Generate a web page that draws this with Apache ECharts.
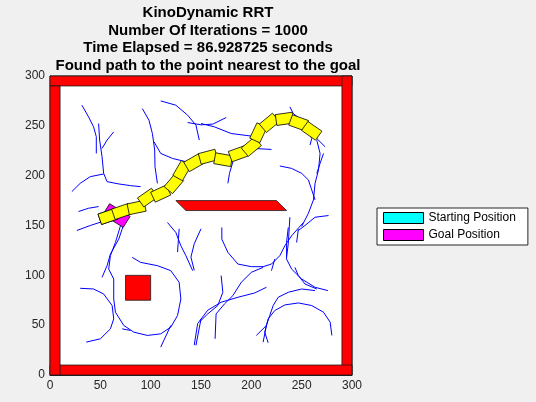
<!DOCTYPE html>
<html><head><meta charset="utf-8">
<script src="https://cdn.jsdelivr.net/npm/echarts@6/dist/echarts.min.js"></script>
<style>html,body{margin:0;padding:0;background:#f0f0f0}#c{width:536px;height:402px}</style>
</head><body><div id="c"></div>
<script>
// ---------- DATA ----------
const titleLines = ['KinoDynamic RRT', 'Number Of Iterations = 1000', 'Time Elapsed = 86.928725 seconds', 'Found path to the point nearest to the goal'];
const axisTicks = [0, 50, 100, 150, 200, 250, 300];
const legendNames = ['Starting Position', 'Goal Position'];
// walls [x0,y0,x1,y1]
const walls = [[0,290,300,300],[290,0,300,300],[0,0,300,10],[0,0,10,290]];
const squareObstacle = [[75,75,100,100]];
const slantObstacle = [[125,175],[225,175],[235,165],[135,165]];
// car poses [cx, cy, heading deg]
const startPose = [[57.5,159,19]];
const goalPose = [[66,160,-32]];
const pathPoses = [
  [57.5,159,19],[71,164,19],[86,168,12],[97,178,35],[110,182,25],[123,192,50],
  [131,205,60],[143,213,30],[157,219,15],[172,216,-10],[187,222,20],[200,229,40],
  [207,243,65],[218,253,40],[233,257,8],[247,253,-20],[260,245,-35]
];
// RRT tree branches (polylines)
const treeBranches = [
  [[31.7,270.7],[38.3,259],[43.3,249],[46,239],[46,222.3]],
  [[48.3,252.3],[49.3,235.7],[51.7,219],[53.3,202.3],[56.7,194],[68.3,191.7],[80,190],[90,189]],
  [[63.3,244],[56.7,235.7],[51.7,227.3]],
  [[21.7,184],[30,192.3],[40,199],[53.3,201.7]],
  [[91.7,267.3],[98.3,255.7],[101.7,242.3],[104,225.7],[104.3,209],[106.7,192.3]],
  [[110,275],[125,270.7],[136.7,260.7],[145,250.7],[148.3,235.7]],
  [[103.3,234],[110,222.3],[121.7,217.3],[135,214]],
  [[28.3,164],[38.3,167.3],[48.3,169]],
  [[26.7,145],[40,150],[50,153.3],[60,156]],
  [[136.7,253.3],[150,251],[161.7,251.7],[175,258.3]],
  [[150,252.3],[163.3,249],[180,242.3],[200,239.7]],
  [[238.3,269],[241.7,262.3],[250,255.7],[256.7,245.7],[260,237.3],[258.3,230.7]],
  [[256.7,245.7],[265,237.3],[273.3,229]],
  [[265,235.7],[268.3,222.3],[266.7,205.7],[263.3,192.3],[261.7,175.7],[256.7,162.3],[250,149]],
  [[228.3,209.7],[240,207.3],[250,202.3],[256.7,195.7],[260,185.7],[263.3,175.7]],
  [[271.7,222.3],[268.3,212.3],[265,202.3]],
  [[276.7,160],[263.3,158.3],[253.3,150],[246.7,145]],
  [[203.3,227.3],[220,226.3]],
  [[181.7,214],[178.3,202.3],[176.7,192.3]],
  [[238.3,158.3],[236.7,131.7],[235,118.3]],
  [[170.7,148],[170.7,136.3],[176.7,123],[186.7,111.3],[200,108.7],[211.7,108.7],[220,111.3],[228.3,119.7],[233.3,129.7],[240,139.7],[251.7,153]],
  [[236.7,148],[235,133],[235,116.3],[240,106.3],[250,96.3],[263.3,88],[276,84.7]],
  [[246.7,146.3],[245,133]],
  [[243.3,108],[246.7,99.7],[253.3,91.3],[265,86.3]],
  [[223.3,116.3],[220,104.7]],
  [[211.7,108],[200,103],[190,93],[181.7,79.7],[173.3,71.3],[165,61.3],[164,36.3]],
  [[170,99.7],[171.7,83],[166.7,69.7],[156.7,61.3],[150,54.7]],
  [[215,88],[203.3,82.3],[186.7,78],[170,73],[156.7,65],[146.7,51.7],[143.3,30]],
  [[263.3,84.7],[250,86.3],[236.7,83],[226.7,78],[221.7,69.7],[218.3,59.7],[215,49.7],[211.7,33]],
  [[280,39.7],[278.3,53],[271.7,63],[260,69.7],[246.7,72.3],[233.3,70.3],[223.3,64.7],[216.7,56.3],[213.3,43],[216.7,32.3]],
  [[205,39.7],[215,49.7]],
  [[73.3,151.3],[68.3,136.3],[60,121.3],[56.7,109.7],[51.7,98]],
  [[70,149.7],[65,133],[60,119.7],[58.3,106.3],[63.3,96.3],[63.3,76.3],[65,63],[73.3,49.7],[83.3,43],[96.7,39.7],[110,41.3],[120,48],[126.7,59.7],[130,76.3],[128.3,93],[120,104.7],[106.7,109.7],[90,113],[81.7,118]],
  [[30,87],[43.3,86.3],[53.3,81.3],[61.7,69.7],[63.3,56.3],[60,46.3],[50,36.3],[36,33]],
  [[71.7,46.3],[80,44.7]],
  [[120,49.7],[110,28]],
  [[116.7,153],[125,143],[130,129.7],[135,119.7],[141.7,104.7]],
  [[128.3,146.7],[126.7,123.3]],
  [[150,146.7],[143.3,131.7],[140,118.3],[143.3,105]],
  [[150,56.3],[145,29.7]]
];

// ---------- RENDER ----------
const FONT = 'Liberation Sans, Arial, Helvetica, sans-serif';
const CAR_L = 17, CAR_W = 11, GOAL_L = 24, GOAL_W = 13;
const chart = echarts.init(document.getElementById('c'));

function boxItem(params, api) {
  const p0 = api.coord([api.value(0), api.value(3)]);
  const p1 = api.coord([api.value(2), api.value(1)]);
  return {type:'rect', shape:{x:p0[0], y:p0[1], width:p1[0]-p0[0], height:p1[1]-p0[1]},
    style:{fill:'#ff0000', stroke:'#1a1a1a', lineWidth:0.8}};
}
function carItem(fill, L, W) {
  return function (params, api) {
    const cx = api.value(0), cy = api.value(1), h = api.value(2) * Math.PI / 180;
    const c = Math.cos(h), s = Math.sin(h);
    const pts = [[-L/2,-W/2],[L/2,-W/2],[L/2,W/2],[-L/2,W/2]]
      .map(([a,b]) => api.coord([cx + a*c - b*s, cy + a*s + b*c]));
    return {type:'polygon', shape:{points:pts}, style:{fill:fill, stroke:'#000', lineWidth:0.8}};
  };
}

chart.setOption({
  backgroundColor:'#f0f0f0',
  animation:false,
  title:{
    text: titleLines.join('\n'), left:203, top:4, padding:[0,5,0,5], textAlign:'center',
    textStyle:{fontFamily:FONT, fontSize:15, fontWeight:'bold', color:'#000', lineHeight:17.6}
  },
  legend:{
    orient:'vertical', left:377, top:208, data:legendNames,
    backgroundColor:'#fff', borderColor:'#262626', borderWidth:1, borderRadius:0,
    padding:[4,12,4,6], itemGap:5, itemWidth:40, itemHeight:11, icon:'rect',
    textStyle:{fontFamily:FONT, fontSize:12, color:'#000'},
    itemStyle:{borderColor:'#000', borderWidth:1}
  },
  grid:{left:50, right:184, top:76, bottom:27, show:true, backgroundColor:'#fff', borderColor:'#262626', borderWidth:1},
  xAxis:{type:'value', min:axisTicks[0], max:axisTicks[axisTicks.length-1], interval:50,
    splitLine:{show:false}, axisTick:{show:false}, axisLine:{show:true, lineStyle:{color:'#262626'}},
    axisLabel:{fontFamily:FONT, fontSize:12, color:'#262626', margin:5}},
  yAxis:{type:'value', min:axisTicks[0], max:axisTicks[axisTicks.length-1], interval:50,
    splitLine:{show:false}, axisTick:{show:false}, axisLine:{show:true, lineStyle:{color:'#262626'}},
    axisLabel:{fontFamily:FONT, fontSize:12, color:'#262626', margin:5}},
  series:[
    {type:'custom', name:'walls', renderItem:boxItem, data:walls, z:2, silent:true},
    {type:'custom', name:'square', renderItem:boxItem, data:squareObstacle, z:2, silent:true},
    {type:'custom', name:'slant', z:2, silent:true, data:slantObstacle,
      renderItem:function(params, api){
        if (params.dataIndex !== 0) return;
        const pts = slantObstacle.map(p => api.coord(p));
        return {type:'polygon', shape:{points:pts}, style:{fill:'#ff0000', stroke:'#1a1a1a', lineWidth:0.8}};
      }},
    {type:'lines', name:'tree', coordinateSystem:'cartesian2d', polyline:true, z:3, silent:true,
      lineStyle:{color:'#0000ff', width:1, opacity:1},
      data: treeBranches.map(b => ({coords:b}))},
    {type:'custom', name:legendNames[1], renderItem:carItem('#ff00ff', GOAL_L, GOAL_W), data:goalPose, z:4,
      itemStyle:{color:'#ff00ff', borderColor:'#000', borderWidth:1}},
    {type:'custom', name:legendNames[0], renderItem:carItem('#00ffff', CAR_L, CAR_W), data:startPose, z:4,
      itemStyle:{color:'#00ffff', borderColor:'#000', borderWidth:1}},
    {type:'custom', name:'path', renderItem:carItem('#ffff00', CAR_L, CAR_W), data:pathPoses, z:5}
  ]
});
</script></body></html>
